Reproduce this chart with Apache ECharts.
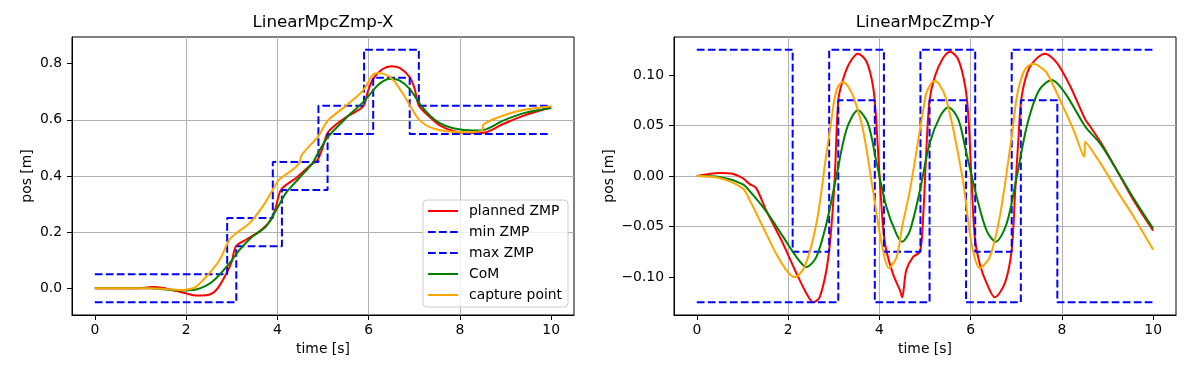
<!DOCTYPE html>
<html>
<head>
<meta charset="utf-8">
<script src="https://cdn.jsdelivr.net/npm/echarts@6/dist/echarts.min.js"></script>
<style>html,body{margin:0;padding:0;background:#fff}#c{width:1200px;height:366px}</style>
</head>
<body>
<div id="c"></div>
<script>
// ---- data ----
var xTicks = [0, 2, 4, 6, 8, 10];
var yTicksX = [0, 0.2, 0.4, 0.6, 0.8];
var yTicksY = [-0.1, -0.05, 0, 0.05, 0.1];

// left plot: X direction
var maxZmpX_t = [0, 2.9, 3.9, 4.9, 5.9, 7.1, 10];
var maxZmpX_v = [0.05, 0.25, 0.45, 0.65, 0.85, 0.65, 0.65];
var minZmpX_t = [0, 3.1, 4.1, 5.1, 6.1, 6.9, 10];
var minZmpX_v = [-0.05, 0.15, 0.35, 0.55, 0.75, 0.55, 0.55];

var plannedX = [[0,0],[1.0,0],[1.15,0.003],[1.3,0.005],[1.5,0.001],[1.8,-0.01],[2.0,-0.018],[2.22,-0.026],[2.44,-0.025],[2.66,-0.006],[2.88,0.052],[3.0,0.095],[3.09,0.149],[3.31,0.173],[3.6,0.202],[3.86,0.244],[3.97,0.29],[4.08,0.351],[4.41,0.393],[4.7,0.435],[4.88,0.458],[4.99,0.5],[5.1,0.553],[5.3,0.585],[5.51,0.61],[5.88,0.648],[5.98,0.7],[6.1,0.746],[6.3,0.78],[6.5,0.791],[6.68,0.785],[6.9,0.752],[7.01,0.71],[7.1,0.651],[7.34,0.61],[7.56,0.58],[7.85,0.56],[8.15,0.553],[8.48,0.553],[8.96,0.586],[9.4,0.615],[10,0.645]];
var comX = [[0,0],[1.2,0],[1.5,-0.003],[1.85,-0.008],[2.22,-0.004],[2.58,0.024],[2.95,0.089],[3.17,0.137],[3.46,0.185],[3.75,0.22],[4.0,0.286],[4.19,0.34],[4.48,0.393],[4.77,0.446],[4.92,0.49],[5.11,0.539],[5.51,0.607],[5.88,0.663],[6.1,0.705],[6.24,0.729],[6.46,0.746],[6.68,0.74],[6.9,0.71],[7.12,0.657],[7.34,0.616],[7.56,0.588],[7.85,0.57],[8.3,0.562],[8.52,0.564],[8.96,0.598],[9.4,0.624],[10,0.642]];
var captureX = [[0,0],[1.2,0],[1.5,-0.002],[1.85,-0.006],[2.0,-0.005],[2.22,0.006],[2.51,0.054],[2.73,0.1],[2.95,0.173],[3.13,0.2],[3.39,0.232],[3.68,0.292],[3.9,0.351],[4.04,0.387],[4.34,0.423],[4.48,0.446],[4.52,0.47],[4.63,0.494],[4.89,0.54],[5.11,0.598],[5.51,0.651],[5.88,0.705],[6.1,0.762],[6.22,0.767],[6.5,0.748],[6.75,0.693],[6.97,0.633],[7.12,0.598],[7.34,0.574],[7.7,0.559],[8.07,0.556],[8.49,0.562],[8.51,0.582],[8.81,0.607],[9.33,0.633],[10,0.648]];

// right plot: Y direction
var maxZmpY_t = [0, 2.1, 2.9, 4.1, 4.9, 6.1, 6.9, 10];
var maxZmpY_v = [0.125, -0.075, 0.125, -0.075, 0.125, -0.075, 0.125, 0.125];
var minZmpY_t = [0, 3.1, 3.9, 5.1, 5.9, 7.1, 7.9, 10];
var minZmpY_v = [-0.125, 0.075, -0.125, 0.075, -0.125, 0.075, -0.125, -0.125];

var plannedY = [[0,0],[0.5,0.003],[0.8,0.002],[1.0,-0.002],[1.16,-0.008],[1.3,-0.012],[1.52,-0.034],[1.89,-0.067],[2.18,-0.096],[2.4,-0.116],[2.55,-0.125],[2.69,-0.12],[2.84,-0.093],[2.93,-0.06],[3.02,-0.004],[3.1,0.075],[3.2,0.095],[3.35,0.112],[3.53,0.121],[3.72,0.113],[3.86,0.089],[3.92,0.062],[4.0,0.003],[4.08,-0.05],[4.15,-0.073],[4.3,-0.097],[4.45,-0.113],[4.5,-0.12],[4.59,-0.093],[4.74,-0.08],[4.89,-0.075],[4.96,-0.04],[5.03,0.026],[5.1,0.075],[5.22,0.099],[5.4,0.117],[5.55,0.123],[5.73,0.115],[5.88,0.089],[5.95,0.059],[6.02,-0.004],[6.09,-0.06],[6.2,-0.087],[6.35,-0.106],[6.53,-0.12],[6.75,-0.106],[6.9,-0.073],[6.97,-0.02],[7.05,0.039],[7.12,0.079],[7.3,0.108],[7.63,0.121],[7.89,0.112],[8.18,0.089],[8.51,0.056],[8.62,0.049],[8.84,0.034],[9.2,0.006],[9.57,-0.024],[10,-0.054]];
var comY = [[0,0],[0.5,-0.001],[1.0,-0.008],[1.16,-0.015],[1.52,-0.035],[1.89,-0.06],[2.18,-0.08],[2.4,-0.09],[2.62,-0.08],[2.84,-0.047],[3.06,0.0],[3.28,0.046],[3.53,0.065],[3.75,0.052],[3.94,0.013],[4.15,-0.03],[4.37,-0.057],[4.5,-0.065],[4.67,-0.054],[4.89,-0.014],[5.1,0.032],[5.33,0.059],[5.51,0.068],[5.73,0.056],[5.91,0.022],[6.13,-0.02],[6.35,-0.054],[6.55,-0.065],[6.79,-0.047],[7.01,-0.001],[7.23,0.049],[7.49,0.084],[7.78,0.095],[8.07,0.082],[8.51,0.049],[8.84,0.032],[9.2,0.006],[9.57,-0.022],[10,-0.052]];
var captureY = [[0,0],[0.5,-0.002],[1.0,-0.012],[1.16,-0.024],[1.52,-0.057],[1.74,-0.077],[1.96,-0.093],[2.14,-0.1],[2.36,-0.09],[2.62,-0.047],[2.84,0.022],[2.95,0.056],[3.02,0.077],[3.1,0.089],[3.2,0.093],[3.31,0.089],[3.45,0.076],[3.64,0.046],[3.86,-0.014],[4.05,-0.067],[4.21,-0.091],[4.38,-0.08],[4.5,-0.05],[4.67,-0.014],[4.89,0.046],[4.96,0.065],[5.03,0.082],[5.14,0.092],[5.22,0.094],[5.32,0.09],[5.45,0.078],[5.62,0.046],[5.84,-0.007],[6.02,-0.067],[6.2,-0.091],[6.42,-0.08],[6.64,-0.04],[6.9,0.039],[7.0,0.075],[7.08,0.092],[7.2,0.106],[7.37,0.111],[7.52,0.108],[7.67,0.102],[7.96,0.075],[8.25,0.046],[8.49,0.019],[8.51,0.034],[8.84,0.013],[9.2,-0.014],[9.57,-0.04],[10,-0.073]];

var names = ['planned ZMP', 'min ZMP', 'max ZMP', 'CoM', 'capture point'];
var titles = ['LinearMpcZmp-X', 'LinearMpcZmp-Y'];

// ---- chart ----
var FONT = 'DejaVu Sans';
function zip(t, v) { return t.map(function (x, i) { return [x, v[i]]; }); }
function minusFmt(d) { return function (v) { var s = Math.abs(v).toFixed(d); return (v < -1e-9 ? '\u2212' : '') + s; }; }

var gridL = { left: 72, top: 37, width: 502, height: 278 };
var gridR = { left: 674, top: 37, width: 502, height: 278 };

function xAx(idx) {
  return {
    type: 'value', gridIndex: idx, min: -0.5, max: 10.5, splitNumber: 5,
    name: 'time [s]', nameLocation: 'middle', nameGap: 27,
    nameTextStyle: { fontFamily: FONT, fontSize: 13.9, color: '#000' },
    axisLine: { show: true, onZero: false, lineStyle: { color: '#000', width: 1 } },
    axisTick: { show: true, length: 5, inside: false, customValues: xTicks, lineStyle: { color: '#000', width: 1 } },
    axisLabel: { customValues: xTicks, margin: 8, fontFamily: FONT, fontSize: 13.9, color: '#000', formatter: function (v) { return String(Math.round(v)); } },
    splitLine: { show: true, showMinLine: false, showMaxLine: false, lineStyle: { color: '#b0b0b0', width: 1 } }
  };
}
function yAx(idx, min, max, ticks, fmt, gap) {
  return {
    type: 'value', gridIndex: idx, min: min, max: max, splitNumber: 5,
    name: 'pos [m]', nameLocation: 'middle', nameGap: gap, nameRotate: 90,
    nameTextStyle: { fontFamily: FONT, fontSize: 13.9, color: '#000' },
    axisLine: { show: true, onZero: false, lineStyle: { color: '#000', width: 1 } },
    axisTick: { show: true, length: 5, inside: false, customValues: ticks, lineStyle: { color: '#000', width: 1 } },
    axisLabel: { customValues: ticks, margin: 10, fontFamily: FONT, fontSize: 13.9, color: '#000', formatter: fmt },
    splitLine: { show: true, showMinLine: false, showMaxLine: false, lineStyle: { color: '#b0b0b0', width: 1 } }
  };
}

function lineS(name, data, color, idx) {
  return { name: name, type: 'line', xAxisIndex: idx, yAxisIndex: idx, data: data, showSymbol: false, symbol: 'none',
    smooth: 0.3, lineStyle: { color: color, width: 2 }, itemStyle: { color: color }, animation: false };
}
function stepS(name, data, idx) {
  return { name: name, type: 'line', xAxisIndex: idx, yAxisIndex: idx, data: data, showSymbol: false, symbol: 'none',
    step: 'end', lineStyle: { color: '#0000ff', width: 2, type: [7.7, 3.3] }, itemStyle: { color: '#0000ff' }, animation: false };
}

var series = [
  lineS(names[0], plannedX, '#ff0000', 0),
  stepS(names[1], zip(minZmpX_t, minZmpX_v), 0),
  stepS(names[2], zip(maxZmpX_t, maxZmpX_v), 0),
  lineS(names[3], comX, '#008000', 0),
  lineS(names[4], captureX, '#ffa500', 0),
  lineS(names[0], plannedY, '#ff0000', 1),
  stepS(names[1], zip(minZmpY_t, minZmpY_v), 1),
  stepS(names[2], zip(maxZmpY_t, maxZmpY_v), 1),
  lineS(names[3], comY, '#008000', 1),
  lineS(names[4], captureY, '#ffa500', 1)
];

var chart = echarts.init(document.getElementById('c'), null, { renderer: 'canvas' });
chart.setOption({
  backgroundColor: '#fff',
  animation: false,
  title: [
    { text: titles[0], left: 323, top: 14, textAlign: 'center', padding: 0, textStyle: { fontFamily: FONT, fontSize: 16.7, fontWeight: 'normal', color: '#000' } },
    { text: titles[1], left: 925, top: 14, textAlign: 'center', padding: 0, textStyle: { fontFamily: FONT, fontSize: 16.7, fontWeight: 'normal', color: '#000' } }
  ],
  grid: [
    Object.assign({ show: true, borderColor: '#000', borderWidth: 1, backgroundColor: 'transparent', containLabel: false }, gridL),
    Object.assign({ show: true, borderColor: '#000', borderWidth: 1, backgroundColor: 'transparent', containLabel: false }, gridR)
  ],
  legend: {
    data: names, orient: 'vertical', left: 423, top: 200,
    padding: [4, 6, 5, 4], itemWidth: 30, itemHeight: 14, itemGap: 7,
    backgroundColor: 'rgba(255,255,255,0.8)', borderColor: '#cccccc', borderWidth: 1, borderRadius: 4,
    itemStyle: { opacity: 0, borderWidth: 0 },
    textStyle: { fontFamily: FONT, fontSize: 13.9, color: '#000', padding: [0, 0, 0, 6] },
    selectedMode: false
  },
  xAxis: [xAx(0), xAx(1)],
  yAxis: [
    yAx(0, -0.095, 0.895, yTicksX, function (v) { return v.toFixed(1); }, 38),
    yAx(1, -0.1375, 0.1375, yTicksY, minusFmt(2), 58)
  ],
  series: series
});
</script>
</body>
</html>
